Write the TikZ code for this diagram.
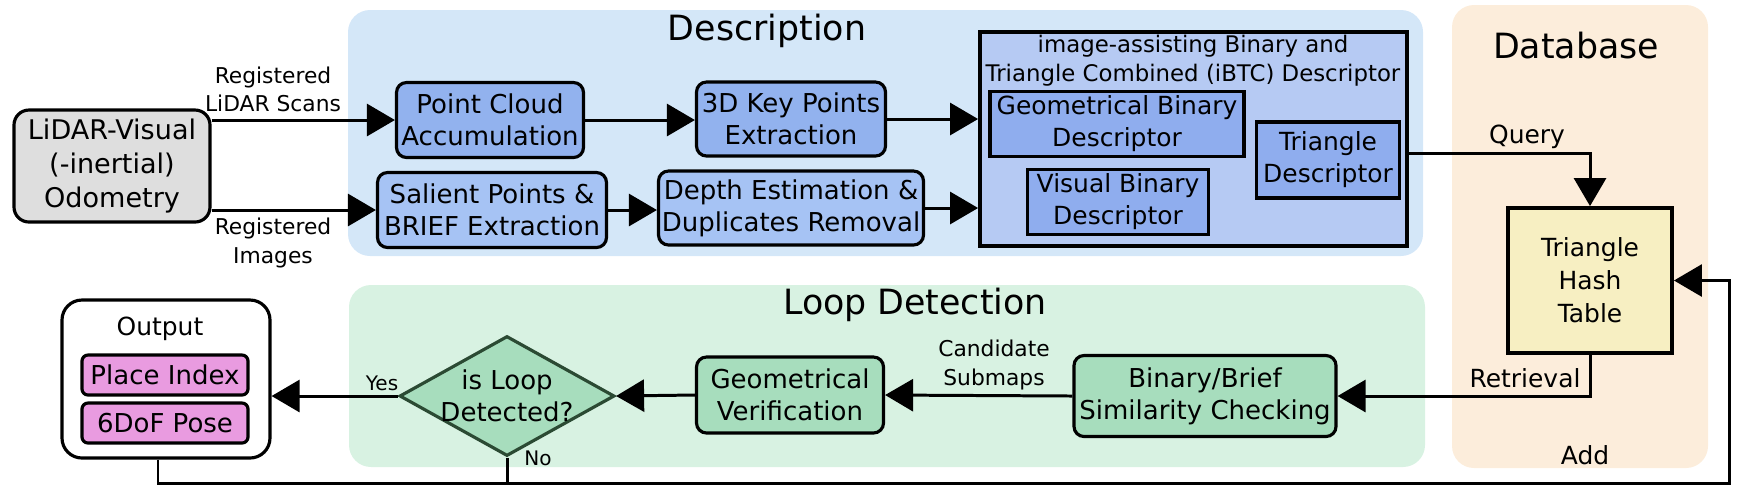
\documentclass[tikz,border=0pt]{standalone}
\usepackage{fontspec}
\setmainfont{DejaVu Sans}
\usetikzlibrary{arrows.meta,shapes.geometric}
\definecolor{DescrBg}{HTML}{D4E7F8}
\definecolor{LoopBg}{HTML}{D8F2E2}
\definecolor{DataBg}{HTML}{FCEDDB}
\definecolor{OdoGray}{HTML}{DEDEDE}
\definecolor{MidBlue}{HTML}{92B2EE}
\definecolor{LightBlue}{HTML}{A6C3F4}
\definecolor{IbtcBlue}{HTML}{B6CAF3}
\definecolor{InnerBlue}{HTML}{8FADEE}
\definecolor{HashYellow}{HTML}{F7EFC2}
\definecolor{LoopGreen}{HTML}{A7DDBD}
\definecolor{DarkGreen}{HTML}{2B4A33}
\definecolor{Pink}{HTML}{E99BE0}
\newcommand{\boxfont}{\fontsize{7.4}{9.1}\selectfont}
\newcommand{\innerfont}{\fontsize{7.1}{9.1}\selectfont}
\newcommand{\titlefont}{\fontsize{9.9}{12}\selectfont}
\newcommand{\labfont}{\fontsize{6.2}{8}\selectfont}
\newcommand{\dbfont}{\fontsize{7.1}{9.4}\selectfont}
\newcommand{\odofont}{\fontsize{7.7}{9.7}\selectfont}
\newcommand{\hdrfont}{\fontsize{6.5}{8.2}\selectfont}
\newcommand{\yesfont}{\fontsize{5.7}{7}\selectfont}
\tikzset{
  box/.style={draw, line width=0.9pt, rounded corners=1mm, align=center, inner sep=0pt, font=\boxfont},
  sqbox/.style={draw, line width=0.9pt, align=center, inner sep=0pt, font=\innerfont},
  region/.style={rounded corners=2.2mm},
  title/.style={font=\titlefont, inner sep=0pt, anchor=base},
  lab/.style={font=\labfont, align=center, inner sep=0pt},
  arr/.style={line width=0.85pt, -{Triangle[length=2.8mm,width=3.2mm]}},
  wire/.style={line width=0.85pt}
}
\begin{document}
\begin{tikzpicture}[x=0.1mm,y=-0.1mm]
  \useasboundingbox (0,0) rectangle (1740,492);
  % backgrounds
  \fill[DescrBg, region] (348,10) rectangle (1423,256);
  \fill[LoopBg, region] (349,285) rectangle (1425,467);
  \fill[DataBg, region] (1452,5) rectangle (1708,468);
  \node[title] (desctitle) at (767,40) {Description};
  \node[title] (looptitle) at (915,314) {Loop Detection};
  \node[title] (dbtitle) at (1576,58) {Database};

  % input
  \node[box, fill=OdoGray, rounded corners=1.5mm, font=\odofont, minimum width=19.6mm, minimum height=11.2mm] (odom) at (112,166) {LiDAR-Visual\\(-inertial)\\Odometry};

  % description
  \node[box, fill=MidBlue, minimum width=18.7mm, minimum height=7.5mm] (pc) at (490,120) {Point Cloud\\Accumulation};
  \node[box, fill=MidBlue, minimum width=18.9mm, minimum height=7.4mm] (kp) at (791,119) {3D Key Points\\Extraction};
  \node[box, fill=LightBlue, minimum width=22.9mm, minimum height=7.5mm] (sal) at (492,210) {Salient Points \&\\BRIEF Extraction};
  \node[box, fill=LightBlue, minimum width=26.5mm, minimum height=7.4mm] (dep) at (791,208) {Depth Estimation \&\\Duplicates Removal};
  \node[draw, line width=1.1pt, fill=IbtcBlue, minimum width=42.7mm, minimum height=21.4mm] (ibtc) at (1193.5,139) {};
  \node[font=\hdrfont, align=center, inner sep=0pt] (ibtchead) at (1193,61) {image-assisting Binary and\\Triangle Combined (iBTC) Descriptor};
  \node[sqbox, fill=InnerBlue, minimum width=25.4mm, minimum height=6.5mm] (geo) at (1117,124) {Geometrical Binary\\Descriptor};
  \node[sqbox, fill=InnerBlue, minimum width=18.1mm, minimum height=6.5mm] (vis) at (1118,202) {Visual Binary\\Descriptor};
  \node[sqbox, fill=InnerBlue, minimum width=14.3mm, minimum height=7.6mm] (tri) at (1328,160) {Triangle\\Descriptor};

  % database
  \node[draw, line width=1.1pt, fill=HashYellow, align=center, inner sep=0pt, font=\dbfont, minimum width=16.4mm, minimum height=14.5mm] (hash) at (1590,280.5) {Triangle\\Hash\\Table};

  % loop detection
  \node[box, fill=LoopGreen, minimum width=26.2mm, minimum height=8.1mm] (sim) at (1205,396) {Binary/Brief\\Similarity Checking};
  \node[box, fill=LoopGreen, minimum width=18.7mm, minimum height=7.6mm] (geover) at (790,395) {Geometrical\\Verification};
  \node[diamond, draw=DarkGreen, line width=0.9pt, fill=LoopGreen, inner sep=0pt, minimum width=21.5mm, minimum height=12mm] (loop) at (507,396) {};
  \node[font=\boxfont, align=center, inner sep=0pt] (looptxt) at (loop) {is Loop\\Detected?};

  % output
  \node[draw, line width=0.9pt, fill=white, rounded corners=2mm, minimum width=20.8mm, minimum height=15.8mm] (output) at (166,379) {};
  \node[font=\dbfont, inner sep=0pt, anchor=base] (outtitle) at (160,335) {Output};
  \node[box, fill=Pink, rounded corners=0.6mm, minimum width=16.6mm, minimum height=4mm] (place) at (165,375) {Place Index};
  \node[box, fill=Pink, rounded corners=0.6mm, minimum width=16.6mm, minimum height=4mm] (pose) at (165,423) {6DoF Pose};

  % connectors
  \draw[arr] (odom.east |- pc.west) -- (pc.west);
  \draw[arr] (odom.east |- sal.west) -- (sal.west);
  \node[lab] (scanlab) at (273,89) {Registered\\LiDAR Scans};
  \node[lab] (imglab) at (273,243) {Registered\\Images};
  \draw[arr] (pc.east) -- (pc.east -| kp.west);
  \draw[arr] (kp.east) -- (kp.east -| ibtc.west);
  \draw[arr] (sal.east) -- (sal.east -| dep.west);
  \draw[arr] (dep.east) -- (dep.east -| ibtc.west);
  \draw[arr] ([yshift=-1.4mm]ibtc.east) -| (hash.north);
  \node[font=\dbfont, inner sep=0pt, anchor=base] (querylab) at (1527,143) {Query};
  \draw[arr] (hash.south) |- (sim.east);
  \node[font=\dbfont, inner sep=0pt, anchor=base] (retrlab) at (1525,387) {Retrieval};
  \draw[arr] (sim.west) -- (geover.east);
  \node[lab] (candlab) at (994,365) {Candidate\\Submaps};
  \draw[arr] (geover.west) -- (loop.east);
  \draw[arr] (loop.west) -- (loop.west -| output.east);
  \node[font=\yesfont, inner sep=0pt, anchor=base] (yeslab) at (382,390) {Yes};
  \node[font=\yesfont, inner sep=0pt, anchor=base] (nolab) at (538,465) {No};
  \coordinate (addc) at (1729,483);
  \draw[arr] ([xshift=-0.8mm]output.south) |- (addc) |- (hash.east);
  \draw[wire] (loop.south) -- (loop.south |- addc);
  \node[font=\dbfont, inner sep=0pt, anchor=base] (addlab) at (1585,464) {Add};
\end{tikzpicture}
\end{document}
